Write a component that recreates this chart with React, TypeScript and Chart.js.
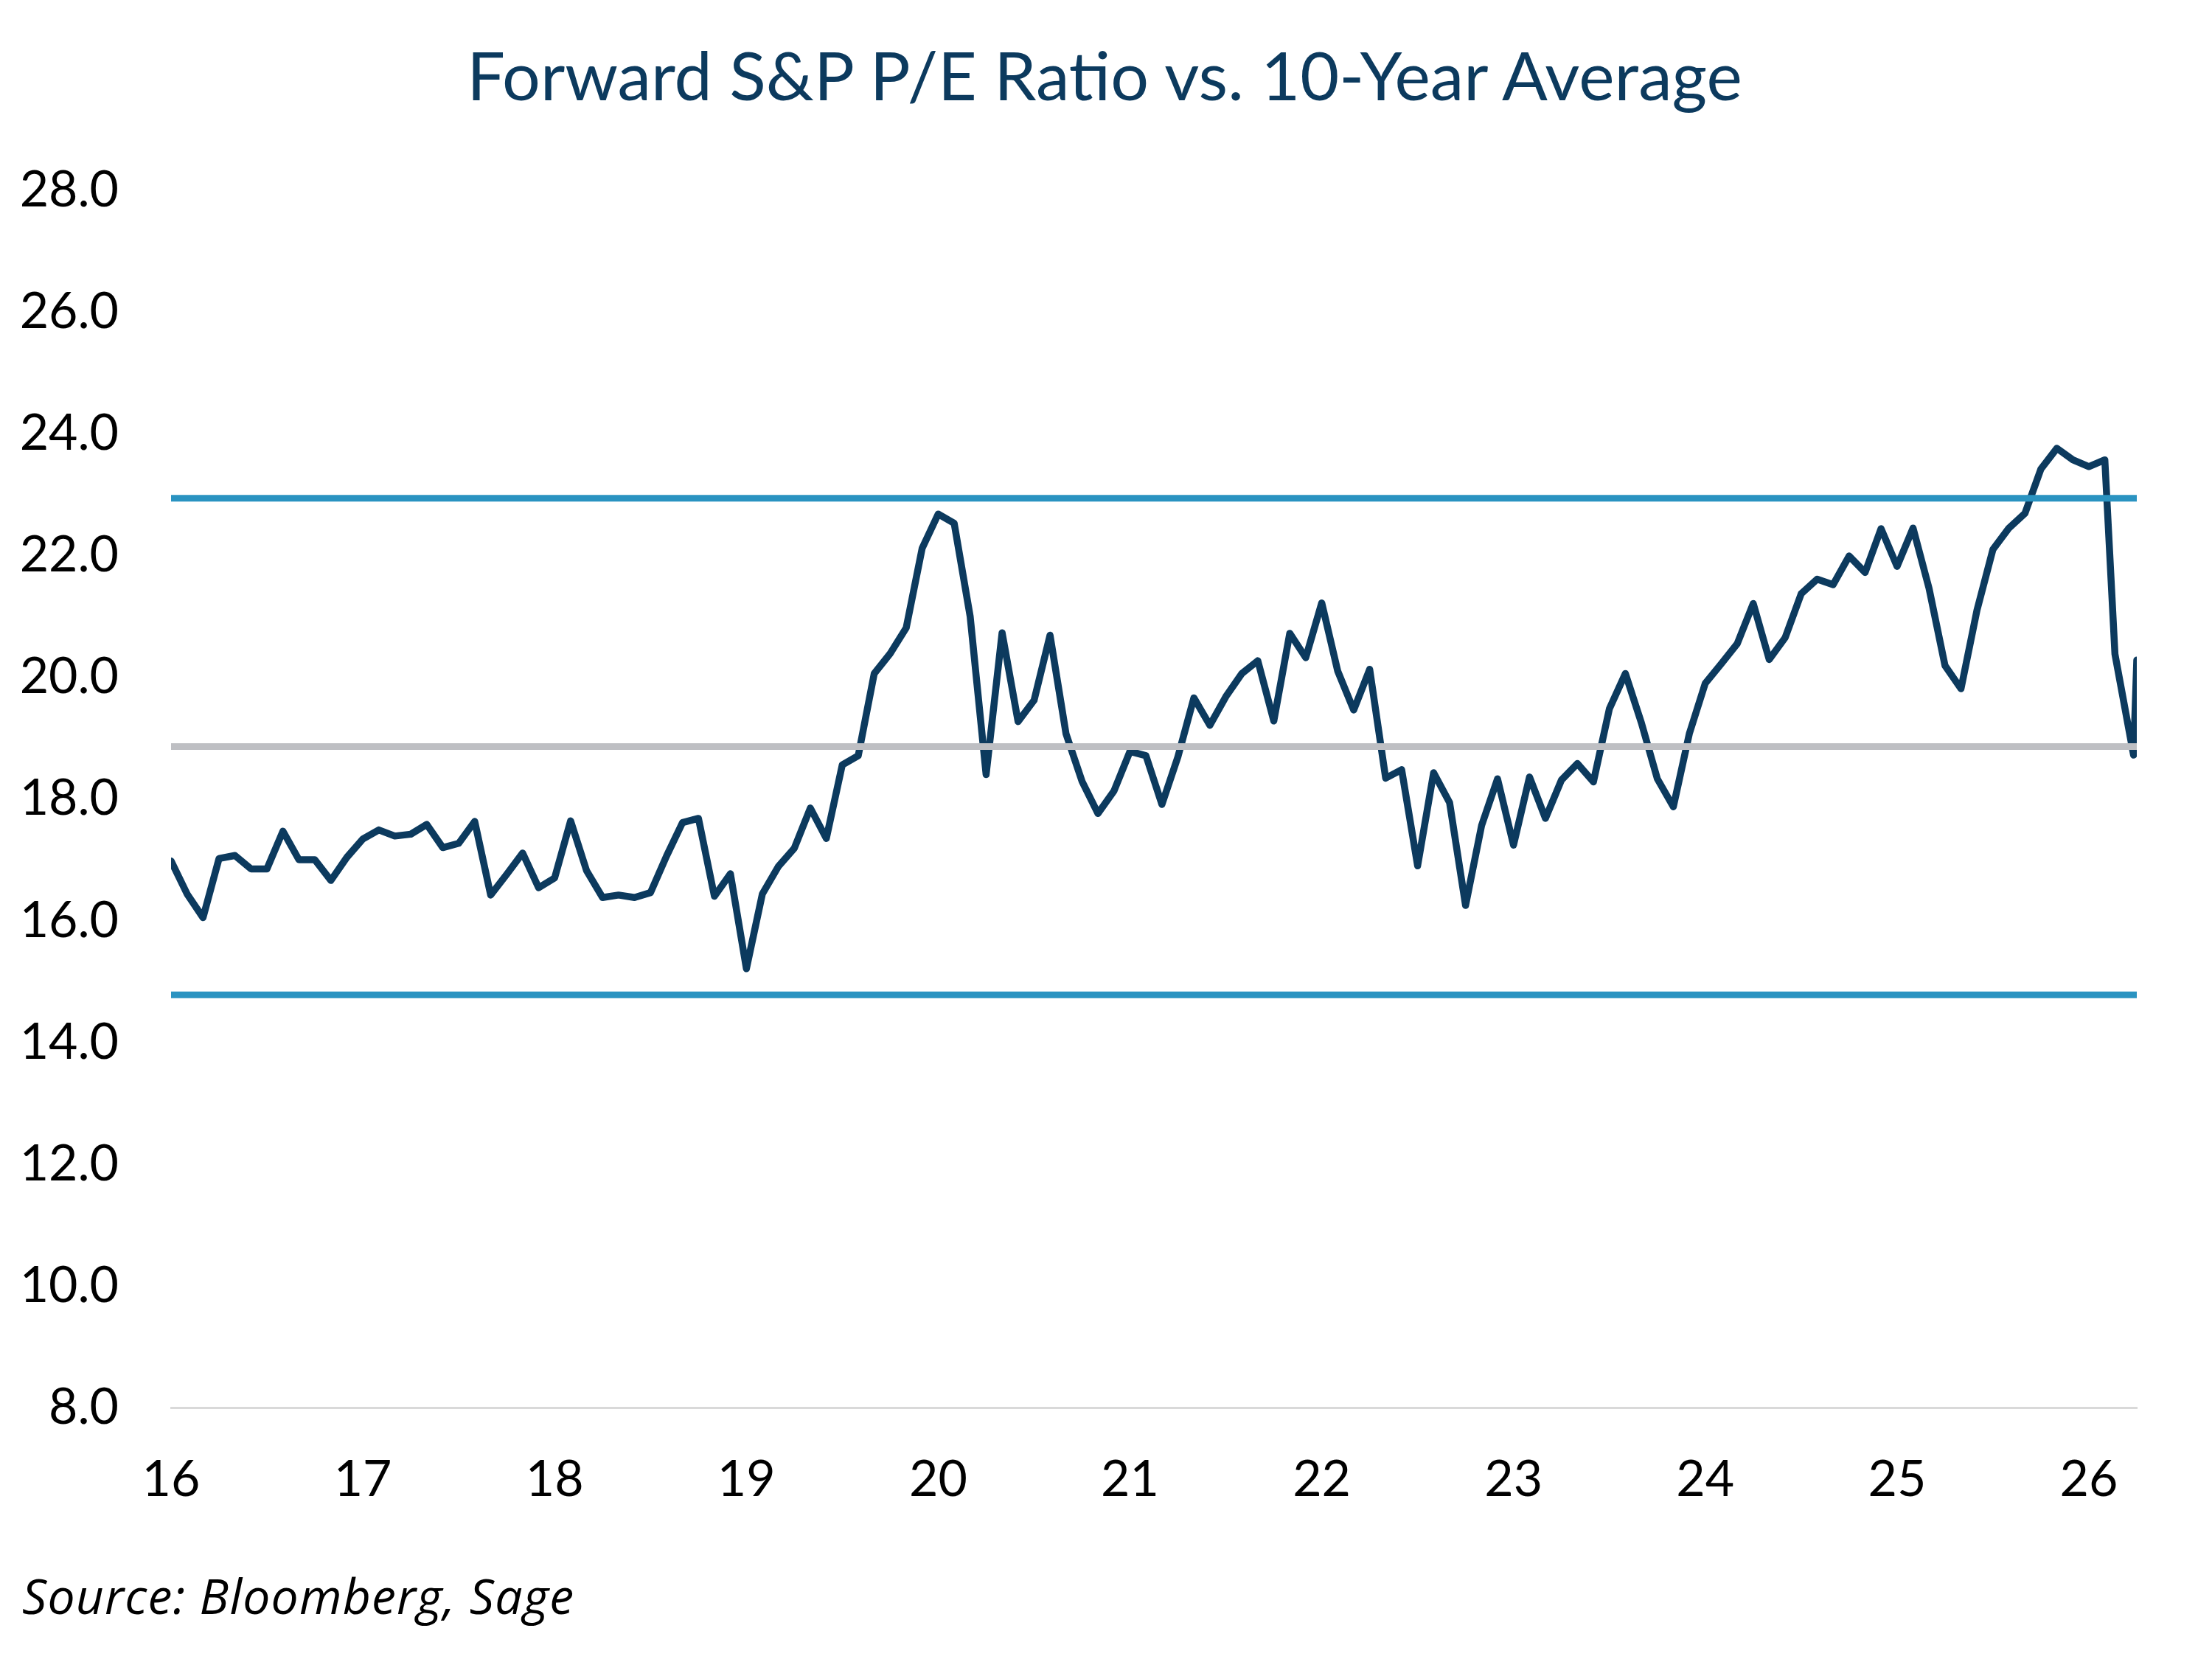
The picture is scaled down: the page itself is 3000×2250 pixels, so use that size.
import React, { useEffect, useRef } from "react";
import { Chart, registerables } from "chart.js";

Chart.register(...registerables);

// ---- Data ----
const startYear = 2016; // first monthly observation: Jan 2016
const peMonthly = [
  // 2016
  16.98, 16.44, 16.05, 17.02, 17.07, 16.85, 16.85, 17.47, 17.0, 17.0, 16.66, 17.04,
  // 2017
  17.34, 17.49, 17.39, 17.42, 17.58, 17.2, 17.27, 17.63, 16.42, 16.76, 17.11, 16.54,
  // 2018
  16.7, 17.64, 16.82, 16.38, 16.42, 16.38, 16.46, 17.06, 17.61, 17.68, 16.4, 16.77,
  // 2019
  15.21, 16.44, 16.89, 17.19, 17.85, 17.35, 18.56, 18.71, 20.06, 20.39, 20.81, 22.12,
  // 2020
  22.68, 22.53, 21.0, 18.4, 20.73, 19.27, 19.62, 20.69, 19.07, 18.29, 17.76, 18.13,
  // 2021
  18.78, 18.71, 17.91, 18.69, 19.66, 19.21, 19.68, 20.06, 20.27, 19.28, 20.72, 20.32,
  // 2022
  21.22, 20.1, 19.46, 20.13, 18.34, 18.48, 16.9, 18.43, 17.94, 16.25, 17.56, 18.33,
  // 2023
  17.24, 18.36, 17.68, 18.31, 18.58, 18.28, 19.48, 20.06, 19.25, 18.33, 17.87, 19.07,
  // 2024
  19.9, 20.22, 20.55, 21.21, 20.29, 20.65, 21.37, 21.61, 21.52, 21.99, 21.72, 22.44,
  // 2025
  21.82, 22.45, 21.46, 20.19, 19.81, 21.1, 22.1, 22.45, 22.69, 23.42, 23.76, 23.57,
  // 2026
  23.46, 23.57,
];
// latest, irregularly spaced observations
const tailDates = ["2026-02-20", "2026-03-25", "2026-04-01"];
const tailValues = [20.38, 18.72, 20.28];

const avgPE = 18.86; // 10-year average
const upperBand = 22.94;
const lowerBand = 14.78;

const yMin = 8;
const yMax = 28;
const yStep = 2;

const titleText = "Forward S&P P/E Ratio vs. 10-Year Average";
const sourceText = "Source: Bloomberg, Sage";

// ---- Styles ----
const NAVY = "#0C3A5E";
const BLUE = "#2A93C1";
const GREY = "#BEBFC3";
const FONT = "Lato, 'Open Sans', sans-serif";

function dateToYear(d: string): number {
  const [y, m, dd] = d.split("-").map(Number);
  return y + (m - 1 + (dd - 1) / 30) / 12;
}

export default function App() {
  const canvasRef = useRef<HTMLCanvasElement | null>(null);

  useEffect(() => {
    const canvas = canvasRef.current;
    if (!canvas) return;

    const linePoints = peMonthly
      .map((v, i) => ({ x: startYear + i / 12, y: v }))
      .concat(tailDates.map((d, k) => ({ x: dateToYear(d), y: tailValues[k] })));
    const xMin = linePoints[0].x;
    const xMax = linePoints[linePoints.length - 1].x;
    const band = (v: number) => [
      { x: xMin, y: v },
      { x: xMax, y: v },
    ];

    const refStyle = {
      borderWidth: 9,
      pointRadius: 0,
      borderCapStyle: "round" as const,
      fill: false,
      order: 1,
    };

    const chart = new Chart(canvas, {
      type: "line",
      data: {
        datasets: [
          { label: "Upper", data: band(upperBand), borderColor: BLUE, ...refStyle },
          { label: "Lower", data: band(lowerBand), borderColor: BLUE, ...refStyle },
          { label: "10-Year Average", data: band(avgPE), borderColor: GREY, ...refStyle },
          {
            label: "Forward P/E",
            data: linePoints,
            borderColor: NAVY,
            borderWidth: 9.5,
            pointRadius: 0,
            tension: 0,
            fill: false,
            borderJoinStyle: "round",
            borderCapStyle: "round",
            order: 2,
          },
        ],
      },
      options: {
        animation: false,
        responsive: false,
        devicePixelRatio: 1,
        layout: { padding: { left: 0, right: 102, top: 258, bottom: 191 } },
        plugins: {
          legend: { display: false },
          tooltip: { enabled: false },
          title: { display: false },
        },
        scales: {
          x: {
            type: "linear",
            min: xMin,
            max: xMax,
            grid: { display: false, drawTicks: false },
            border: { display: true, color: "#D9D9D9", width: 3 },
            ticks: {
              stepSize: 1,
              includeBounds: false,
              autoSkip: false,
              maxRotation: 0,
              padding: 57,
              color: "#000000",
              font: { family: FONT, size: 68 },
              callback: (v: any) => {
                const n = Number(v);
                return Math.abs(n - Math.round(n)) < 1e-6 ? String(Math.round(n) - 2000) : "";
              },
            },
            afterFit: (s: any) => {
              s.height = 150;
            },
          },
          y: {
            type: "linear",
            min: yMin,
            max: yMax,
            grid: { display: false, drawTicks: false },
            border: { display: false },
            ticks: {
              stepSize: yStep,
              padding: 71,
              color: "#000000",
              font: { family: FONT, size: 68 },
              callback: (v: any) => Number(v).toFixed(1),
            },
            afterFit: (s: any) => {
              s.width = 232;
            },
          },
        },
      },
    });

    return () => chart.destroy();
  }, []);

  return (
    <div
      style={{
        position: "absolute",
        left: 0,
        top: 0,
        width: 3000,
        height: 2250,
        background: "#ffffff",
        overflow: "hidden",
      }}
    >
      <canvas
        ref={canvasRef}
        width={3000}
        height={2250}
        style={{ position: "absolute", left: 0, top: 0, width: 3000, height: 2250 }}
      />
      <div
        style={{
          position: "absolute",
          left: 0,
          top: 55,
          width: 2996,
          textAlign: "center",
          fontFamily: FONT,
          fontSize: 91.5,
          lineHeight: "91.5px",
          color: NAVY,
          whiteSpace: "nowrap",
        }}
      >
        {titleText}
      </div>
      <div
        style={{
          position: "absolute",
          left: 30,
          top: 2130,
          fontFamily: "'Open Sans', Lato, sans-serif",
          fontStyle: "italic",
          fontSize: 66,
          lineHeight: "66px",
          letterSpacing: "1.2px",
          color: "#000000",
          whiteSpace: "nowrap",
        }}
      >
        {sourceText}
      </div>
    </div>
  );
}
